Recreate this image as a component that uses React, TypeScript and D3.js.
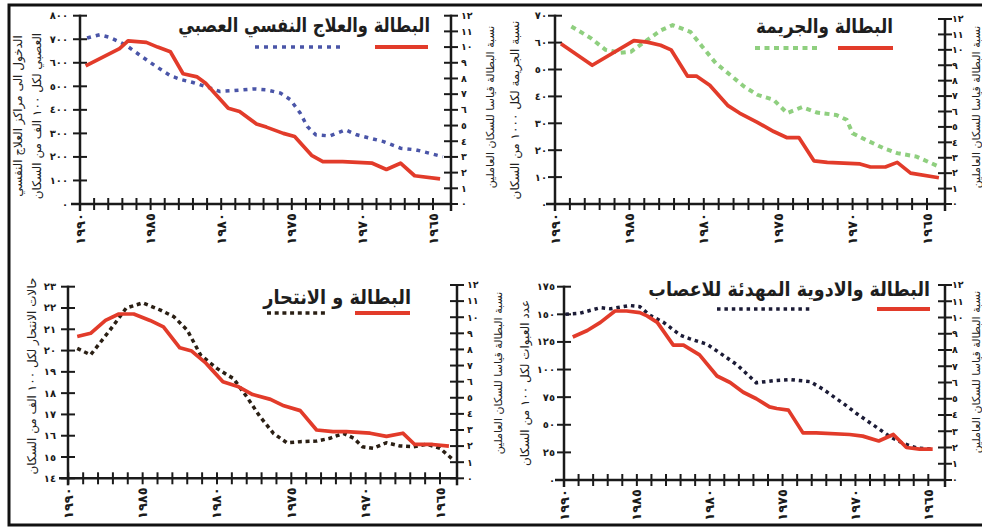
import React, { useLayoutEffect, useRef, useState } from 'react';
import * as d3 from 'd3';

// ---------- DATA ----------
const yearTicks = d3.range(1990, 1964, -1);
const yearLabels = [1990, 1985, 1980, 1975, 1970, 1965];
const rightTicks = d3.range(0, 13, 1);

// Panel 1: unemployment & mental treatment
const p1UnempYears = [1989.6, 1987.2, 1986.6, 1985.3, 1984.5, 1983.6, 1982.7, 1981.7, 1981.1, 1980.3, 1979.5, 1978.7, 1977.5, 1976.8, 1975.6, 1974.8, 1973.6, 1972.8, 1971.4, 1969.3, 1968.3, 1967.3, 1966.3, 1964.5];
const p1UnempValues = [8.8, 9.9, 10.4, 10.3, 10.0, 9.7, 8.3, 8.1, 7.7, 6.9, 6.1, 5.9, 5.1, 4.9, 4.5, 4.3, 3.1, 2.7, 2.7, 2.6, 2.2, 2.6, 1.8, 1.6];
const p1MentalYears = [1989.5, 1988.6, 1987.9, 1986.8, 1985.8, 1984.6, 1983.6, 1982.8, 1982.0, 1981.0, 1980.1, 1979.1, 1977.7, 1976.8, 1975.8, 1975.1, 1974.4, 1973.9, 1973.3, 1972.3, 1971.2, 1970.4, 1968.5, 1967.3, 1966.2, 1964.3];
const p1MentalValues = [705, 719, 708, 677, 634, 584, 545, 528, 516, 497, 478, 482, 489, 485, 471, 443, 386, 329, 294, 289, 315, 294, 265, 237, 230, 201];
const p1LeftTicks = d3.range(0, 801, 100);

// Panel 2: unemployment & crime
const p2UnempYears = [1989.6, 1987.5, 1984.7, 1983.8, 1982.9, 1982.2, 1981.1, 1980.5, 1979.6, 1978.4, 1977.6, 1976.4, 1975.3, 1974.4, 1973.6, 1972.6, 1971.7, 1969.5, 1968.8, 1967.8, 1967.0, 1966.1, 1964.2];
const p2UnempValues = [10.4, 9.0, 10.6, 10.5, 10.3, 10.0, 8.3, 8.3, 7.7, 6.4, 5.9, 5.3, 4.7, 4.3, 4.3, 2.8, 2.7, 2.6, 2.4, 2.4, 2.7, 2.0, 1.7];
const p2CrimeYears = [1988.9, 1987.6, 1986.6, 1985.6, 1984.9, 1984.1, 1982.9, 1982.1, 1980.9, 1980.1, 1979.2, 1978.1, 1977.3, 1976.4, 1975.3, 1974.4, 1973.4, 1972.4, 1971.1, 1970.4, 1970.0, 1969.1, 1967.9, 1967.0, 1965.7, 1964.2];
const p2CrimeValues = [66.0, 61.7, 57.3, 56.2, 56.6, 59.8, 64.5, 66.5, 64.0, 58.5, 52.4, 47.4, 43.7, 40.6, 38.7, 33.8, 36.0, 34.0, 33.1, 31.3, 26.3, 23.8, 20.7, 18.9, 17.6, 13.9];
const p2LeftTicks = d3.range(0, 71, 10);

// Panel 3: unemployment & suicide
const p3UnempYears = [1989.4, 1988.5, 1987.5, 1986.6, 1985.6, 1984.5, 1983.6, 1982.5, 1981.7, 1980.8, 1980.3, 1979.6, 1978.6, 1977.6, 1976.4, 1975.5, 1974.4, 1973.3, 1972.2, 1971.3, 1969.7, 1968.6, 1967.5, 1966.7, 1965.5, 1964.4];
const p3UnempValues = [8.8, 9.0, 9.8, 10.2, 10.2, 9.8, 9.4, 8.1, 7.9, 7.2, 6.7, 6.0, 5.7, 5.2, 4.9, 4.5, 4.2, 3.0, 2.9, 2.9, 2.8, 2.6, 2.8, 2.1, 2.1, 2.0];
const p3SuicideYears = [1989.4, 1988.5, 1987.2, 1986.1, 1985.0, 1983.8, 1982.9, 1982.0, 1981.1, 1980.0, 1979.3, 1978.9, 1978.0, 1977.1, 1976.2, 1975.3, 1974.4, 1973.3, 1972.4, 1971.5, 1970.8, 1970.2, 1969.5, 1968.6, 1967.7, 1966.8, 1965.9, 1965.0, 1964.1];
const p3SuicideValues = [20.1, 19.8, 20.96, 22.0, 22.24, 21.9, 21.59, 20.96, 19.79, 19.16, 18.85, 18.69, 17.83, 16.89, 16.11, 15.67, 15.72, 15.75, 15.88, 16.11, 15.88, 15.48, 15.41, 15.67, 15.52, 15.48, 15.6, 15.41, 14.86];
const p3LeftTicks = d3.range(14, 24, 1);

// Panel 4: unemployment & sedatives
const p4UnempYears = [1989.4, 1988.4, 1987.5, 1986.5, 1985.7, 1984.8, 1984.3, 1983.6, 1982.5, 1981.8, 1980.7, 1979.5, 1978.6, 1977.7, 1976.8, 1975.9, 1975.4, 1974.6, 1973.6, 1972.7, 1970.4, 1969.5, 1968.4, 1967.4, 1966.5, 1965.6, 1964.7];
const p4UnempValues = [8.8, 9.2, 9.7, 10.4, 10.4, 10.3, 10.1, 9.7, 8.3, 8.3, 7.7, 6.4, 6.0, 5.4, 5.0, 4.5, 4.4, 4.3, 2.9, 2.9, 2.8, 2.7, 2.4, 2.8, 2.0, 1.9, 1.9];
const p4SedativeYears = [1989.9, 1988.9, 1987.5, 1986.8, 1985.9, 1985.5, 1984.8, 1984.1, 1983.2, 1982.0, 1981.4, 1980.2, 1979.3, 1978.1, 1976.8, 1975.6, 1974.5, 1973.1, 1972.2, 1970.8, 1969.9, 1968.8, 1967.6, 1966.7, 1965.8, 1964.7];
const p4SedativeValues = [150, 151, 156, 155, 157, 158, 157, 149, 143, 131, 128, 123, 115, 104, 88, 90, 91, 89, 82, 69, 60, 50, 39, 33, 29, 28];
const p4LeftTicks = d3.range(0, 176, 25);

const rightAxisTitle = 'نسبة البطالة قياسا للسكان العاملين';

// ---------- LAYOUT ----------
const AR = '٠١٢٣٤٥٦٧٨٩';
const ar = (v: number | string) => String(v).replace(/[0-9]/g, (d) => AR[+d]);
const FONT = '"DejaVu Sans", sans-serif';
const RED = '#e23b2a';

const panels = [
  {
    title: 'البطالة والعلاج النفسي العصبي', titleW: 252,
    leftTitle: ['الدخول الى مراكز العلاج النفسي', 'العصبي لكل ١٠٠ الف من السكان'],
    leftTitleX: [18, 37], leftTitleCY: 116,
    rightTitleX: 490, rightTitleCY: 107,
    leftTicks: p1LeftTicks, leftDomain: [0, 800],
    x1990: 80, x1965: 433, axL: 80, axR: 451,
    yBase: 204, yLeftTop: 15.7, yRightTop: 15.7,
    leftGap: 12, rightGap: 10,
    titleX: 430, titleY: 32,
    legY: 47, legRed: [375, 428], legDot: [255, 343],
    red: { years: p1UnempYears, values: p1UnempValues },
    other: { years: p1MentalYears, values: p1MentalValues },
    dotColor: '#4a55a8', dash: '4 5', dotW: 3.5,
  },
  {
    title: 'البطالة والجريمة', titleW: 137,
    leftTitle: ['نسبة الجريمة لكل ١٠٠٠ من السكان'],
    leftTitleX: [515], leftTitleCY: 110,
    rightTitleX: 976, rightTitleCY: 107,
    leftTicks: p2LeftTicks, leftDomain: [0, 70],
    x1990: 555, x1965: 927, axL: 555, axR: 945,
    yBase: 204, yLeftTop: 15.7, yRightTop: 19,
    leftGap: 8, rightGap: 7,
    titleX: 893, titleY: 33,
    legY: 48, legRed: [838, 893], legDot: [755, 820],
    red: { years: p2UnempYears, values: p2UnempValues },
    other: { years: p2CrimeYears, values: p2CrimeValues },
    dotColor: '#8fcf7f', dash: '5 4.5', dotW: 4,
  },
  {
    title: 'البطالة و الانتحار', titleW: 148,
    leftTitle: ['حالات الانتحار لكل ١٠٠ الف من السكان'],
    leftTitleX: [32], leftTitleCY: 376,
    rightTitleX: 498, rightTitleCY: 373,
    leftTicks: p3LeftTicks, leftDomain: [14, 23],
    x1990: 68.3, x1965: 440, axL: 68, axR: 457,
    yBase: 478.3, yLeftTop: 286.7, yRightTop: 285,
    leftGap: 12, rightGap: 10,
    titleX: 411, titleY: 304,
    legY: 313, legRed: [355, 410], legDot: [267, 328],
    red: { years: p3UnempYears, values: p3UnempValues },
    other: { years: p3SuicideYears, values: p3SuicideValues },
    dotColor: '#2a1f14', dash: '4 3.7', dotW: 3.5,
  },
  {
    title: 'البطالة والادوية المهدئة للاعصاب', titleW: 282,
    leftTitle: ['عدد العبوات لكل ١٠٠ من السكان'],
    leftTitleX: [525], leftTitleCY: 383,
    rightTitleX: 976, rightTitleCY: 372,
    leftTicks: p4LeftTicks, leftDomain: [0, 175],
    x1990: 564, x1965: 928.3, axL: 564, axR: 945,
    yBase: 480, yLeftTop: 286.7, yRightTop: 285,
    leftGap: 9, rightGap: 7,
    titleX: 930, titleY: 296,
    legY: 309, legRed: [877, 930], legDot: [717, 813],
    red: { years: p4UnempYears, values: p4UnempValues },
    other: { years: p4SedativeYears, values: p4SedativeValues },
    dotColor: '#1b1b36', dash: '3.5 3.9', dotW: 3.5,
  },
];

function Panel({ p }: { p: any }) {
  const x = d3.scaleLinear().domain([1990, 1965]).range([p.x1990, p.x1965]);
  const yL = d3.scaleLinear().domain(p.leftDomain).range([p.yBase, p.yLeftTop]);
  const yR = d3.scaleLinear().domain([0, 12]).range([p.yBase, p.yRightTop]);
  const redLine = d3.line<number>().x((_, i) => x(p.red.years[i])).y((v) => yR(v));
  const otherLine = d3.line<number>().x((_, i) => x(p.other.years[i])).y((v) => yL(v));
  const ink = '#1a1a1a';
  const titleRef = useRef<SVGTextElement>(null);
  const [k, setK] = useState(1);
  useLayoutEffect(() => {
    const el = titleRef.current;
    if (el) {
      const w = el.getComputedTextLength();
      if (w > 0) setK(p.titleW / w);
    }
  }, [p.titleW]);
  return (
    <g>
      {/* x axis */}
      <line x1={p.axL - 9} x2={p.axR} y1={p.yBase} y2={p.yBase} stroke={ink} strokeWidth={2.5} />
      {yearTicks.map((t) => (
        <line key={t} x1={x(t)} x2={x(t)} y1={p.yBase - 6} y2={p.yBase + 6} stroke={ink} strokeWidth={2} />
      ))}
      {yearLabels.map((t) => (
        <text key={t} transform={`translate(${x(t) + 4.5},${p.yBase + 9}) rotate(-90)`} textAnchor="end"
          fontFamily={FONT} fontWeight="bold" fontSize={13} fill={ink}>{ar(t)}</text>
      ))}
      {/* left axis */}
      <line x1={p.axL} x2={p.axL} y1={yL(p.leftDomain[1]) - 1} y2={p.yBase + 7} stroke={ink} strokeWidth={2.5} />
      {p.leftTicks.map((t: number) => (
        <g key={t}>
          <line x1={p.axL - 7} x2={p.axL + 7} y1={yL(t)} y2={yL(t)} stroke={ink} strokeWidth={2} />
          <text x={p.axL - p.leftGap} y={yL(t)} dy="0.35em" textAnchor="end" fontFamily={FONT}
            fontWeight="bold" fontSize={10} fill={ink}>{ar(t)}</text>
        </g>
      ))}
      {/* right axis */}
      <line x1={p.axR} x2={p.axR} y1={yR(12) - 1} y2={p.yBase + 7} stroke={ink} strokeWidth={2.5} />
      {rightTicks.map((t) => (
        <g key={t}>
          <line x1={p.axR - 7} x2={p.axR + 7} y1={yR(t)} y2={yR(t)} stroke={ink} strokeWidth={2} />
          <text x={p.axR + p.rightGap} y={yR(t)} dy="0.35em" textAnchor="start" fontFamily={FONT}
            fontWeight="bold" fontSize={9.5} fill={ink}>{ar(t)}</text>
        </g>
      ))}
      {/* axis titles */}
      {p.leftTitle.map((s: string, i: number) => (
        <text key={i} transform={`translate(${p.leftTitleX[i]},${p.leftTitleCY}) rotate(-90)`} textAnchor="middle"
          dominantBaseline="central" fontFamily={FONT} fontSize={12} fill="#222">{s}</text>
      ))}
      <text transform={`translate(${p.rightTitleX},${p.rightTitleCY}) rotate(-90)`} textAnchor="middle"
        dominantBaseline="central" fontFamily={FONT} fontSize={11} fill="#222">{rightAxisTitle}</text>
      {/* series */}
      <path d={otherLine(p.other.values) || ''} fill="none" stroke={p.dotColor} strokeWidth={p.dotW}
        strokeDasharray={p.dash} />
      <path d={redLine(p.red.values) || ''} fill="none" stroke={RED} strokeWidth={3.7} strokeLinejoin="round" />
      {/* legend & title */}
      <text ref={titleRef} transform={`translate(${p.titleX},${p.titleY}) scale(${k},1)`} x={0} y={0}
        textAnchor="end" fontFamily={FONT} fontSize={20} fontWeight="bold" fill="#1e1e1e">{p.title}</text>
      <line x1={p.legRed[0]} x2={p.legRed[1]} y1={p.legY} y2={p.legY} stroke={RED} strokeWidth={4} />
      <line x1={p.legDot[0]} x2={p.legDot[1]} y1={p.legY} y2={p.legY} stroke={p.dotColor} strokeWidth={p.dotW}
        strokeDasharray={p.dash} />
    </g>
  );
}

export default function App() {
  return (
    <svg width={982} height={528} style={{ position: 'absolute', left: 0, top: 0, background: '#fff' }}>
      <rect x={0} y={0} width={982} height={528} fill="#fff" />
      <rect x={9} y={5} width={990} height={520} fill="none" stroke="#111" strokeWidth={3} />
      {panels.map((p, i) => <Panel key={i} p={p} />)}
    </svg>
  );
}
